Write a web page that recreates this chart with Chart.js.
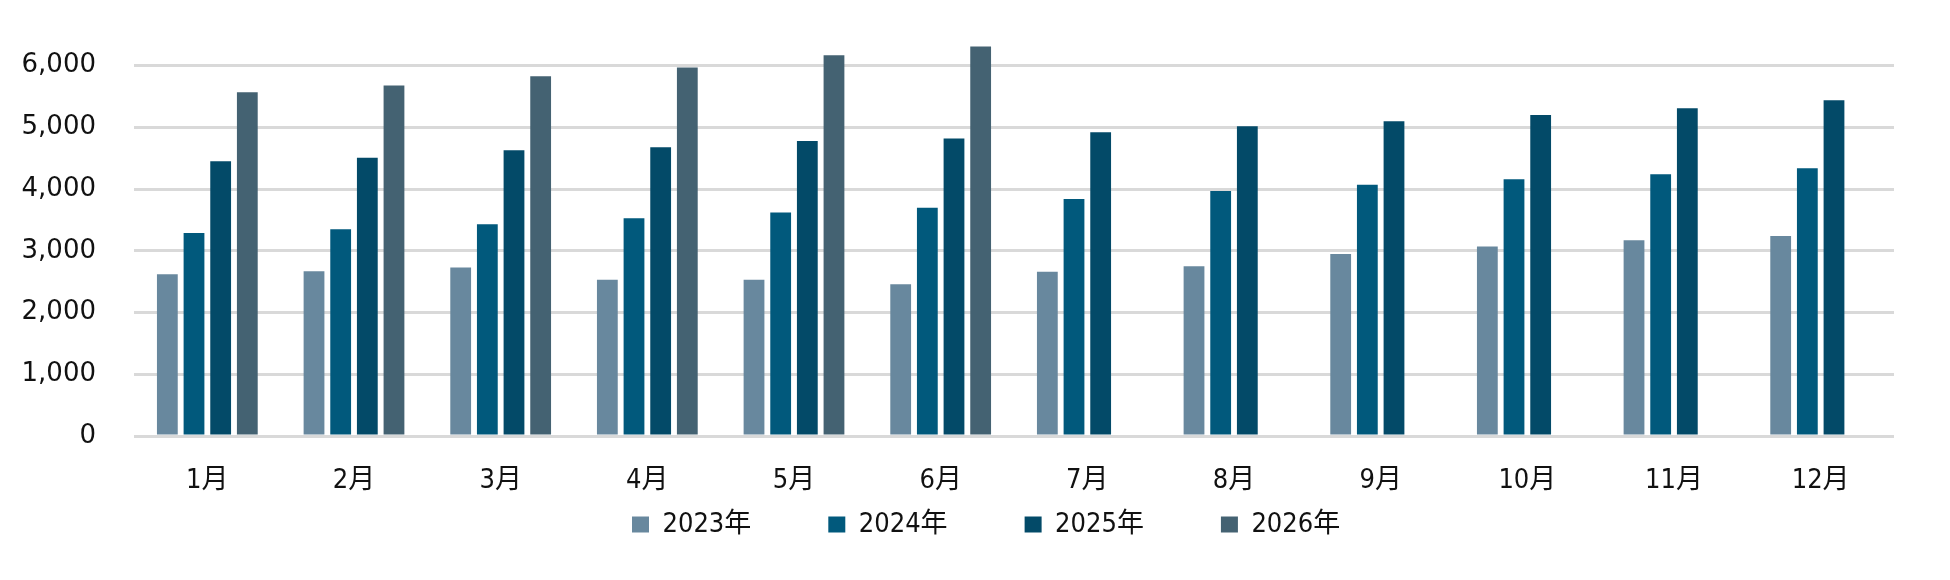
<!DOCTYPE html>
<html>
<head>
<meta charset="utf-8">
<script src="https://cdn.jsdelivr.net/npm/chart.js@4.4.1/dist/chart.umd.min.js"></script>
<style>
  html, body { margin: 0; padding: 0; background: #fff; }
  #wrap { width: 1950px; height: 580px; position: relative; }
</style>
</head>
<body>
<div id="wrap"><canvas id="monthlyChart"></canvas></div>
<script>
// data
const months = ['1月', '2月', '3月', '4月', '5月', '6月', '7月', '8月', '9月', '10月', '11月', '12月'];
const yearLabels = ['2023年', '2024年', '2025年', '2026年'];
const y2023 = [2620, 2670, 2730, 2530, 2530, 2460, 2660, 2750, 2950, 3070, 3170, 3240];
const y2024 = [3290, 3350, 3430, 3530, 3620, 3700, 3840, 3970, 4070, 4160, 4240, 4340];
const y2025 = [4450, 4510, 4630, 4680, 4780, 4820, 4920, 5020, 5100, 5200, 5310, 5440];
const y2026 = [5570, 5680, 5830, 5970, 6170, 6310, null, null, null, null, null, null];
const yTickValues = [0, 1000, 2000, 3000, 4000, 5000, 6000];

const barColors = ['#68889e', '#01597c', '#034a68', '#446272'];
const LEGEND_PAD = 77;              // also sets the gap between legend items
const LEGEND_LEFT = 632 - LEGEND_PAD;
const LEGEND_TOP = 511 - LEGEND_PAD;

// the legend sits left of centre in the original, so move it after layout
// (bottom is opened up to the canvas edge because v4 clips the legend to its box)
const legendOffset = {
    id: 'legendOffset',
    afterLayout(chart) {
        const lg = chart.legend;
        const w = lg.right - lg.left;
        lg.left = LEGEND_LEFT;
        lg.right = LEGEND_LEFT + w;
        lg.top = LEGEND_TOP;
        lg.bottom = chart.height;
    }
};

const series = [y2023, y2024, y2025, y2026];
const datasets = series.map((vals, i) => ({
    label: yearLabels[i],
    data: vals,
    backgroundColor: barColors[i],
    borderWidth: 0,
    categoryPercentage: 0.727,
    barPercentage: 0.78
}));

const ctx = document.getElementById('monthlyChart').getContext('2d');
new Chart(ctx, {
    type: 'bar',
    data: { labels: months, datasets: datasets },
    options: {
        responsive: true,
        maintainAspectRatio: false,
        animation: false,
        layout: { padding: { top: 4, right: 56, bottom: 20, left: 0 } },
        plugins: {
            tooltip: { enabled: false },
            legend: {
                position: 'bottom',
                align: 'start',
                maxHeight: 60,
                labels: {
                    boxWidth: 17,
                    boxHeight: 16,
                    padding: LEGEND_PAD,
                    color: '#111',
                    font: { family: "'DejaVu Sans Condensed', 'Noto Sans CJK JP'", size: 27 }
                }
            }
        },
        scales: {
            x: {
                grid: { display: false, drawTicks: false },
                border: { display: false },
                ticks: {
                    padding: 29,
                    color: '#111',
                    maxRotation: 0,
                    font: { family: "'DejaVu Sans Condensed', 'Noto Sans CJK JP'", size: 27 }
                },
                afterFit(scale) { scale.height = 64; }
            },
            y: {
                min: 0,
                max: 7000,
                border: { display: false },
                grid: { color: '#d9d9d9', lineWidth: 3, drawTicks: false },
                ticks: {
                    padding: 38,
                    color: '#111',
                    font: { family: "'DejaVu Sans'", size: 26 },
                    callback: v => v.toLocaleString('en-US')
                },
                afterBuildTicks(scale) {
                    scale.ticks = yTickValues.map(v => ({ value: v }));
                },
                afterFit(scale) {
                    scale.width = 134;
                    scale.paddingTop = 0;
                    scale.paddingBottom = 0;
                }
            }
        }
    },
    plugins: [legendOffset]
});
</script>
</body>
</html>
